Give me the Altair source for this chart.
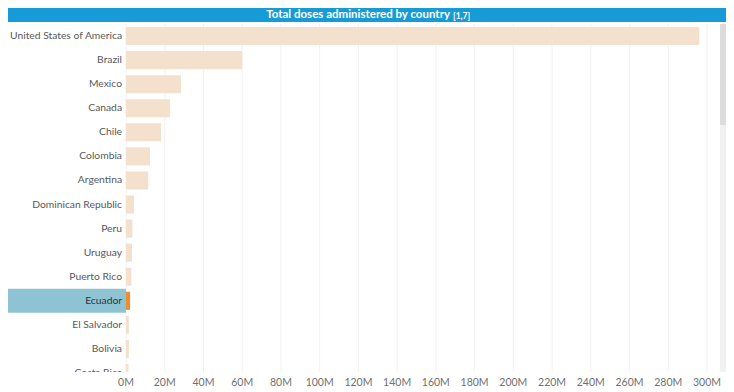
import altair as alt
import pandas as pd

# ---- data ----
countries = [
    "United States of America", "Brazil", "Mexico", "Canada", "Chile",
    "Colombia", "Argentina", "Dominican Republic", "Peru", "Uruguay",
    "Puerto Rico", "Ecuador", "El Salvador", "Bolivia", "Costa Rica",
]
doses_millions = [296, 60, 28.4, 22.7, 18.1, 12.4, 11.5, 4.1, 3.3, 3.1,
                  2.8, 2.1, 1.5, 1.5, 1.3]
highlight_country = "Ecuador"
tick_values_millions = [0, 20, 40, 60, 80, 100, 120, 140, 160, 180,
                        200, 220, 240, 260, 280, 300]
tick_labels = ["0M", "20M", "40M", "60M", "80M", "100M", "120M", "140M",
               "160M", "180M", "200M", "220M", "240M", "260M", "280M", "300M"]
title_main = "Total doses administered by country"
title_note = "[1,7]"

# ---- tables ----
df = pd.DataFrame({"country": countries,
                   "doses": [v * 1e6 for v in doses_millions]})
ticks_df = pd.DataFrame({"tick": [t * 1e6 for t in tick_values_millions],
                         "label": tick_labels})
hl_df = df[df["country"] == highlight_country]
one = pd.DataFrame({"k": [0]})

W, H = 718, 380
STEP = 24.07
PLOT_BOTTOM = 364
xs = alt.Scale(domain=[0, 300e6], range=[118, 699], nice=False, zero=False)
ys = alt.Scale(domain=countries, range=[16, 16 + 15 * STEP],
               paddingInner=0.25, paddingOuter=0.125)

X = alt.X("tick:Q", scale=xs, axis=None)
Y = alt.Y("country:N", scale=ys, axis=None, sort=countries)

label_font = "Lato"

grid = alt.Chart(ticks_df).mark_rule(color="#f1f1f1", strokeWidth=1).encode(
    x=X, y=alt.value(16), y2=alt.value(PLOT_BOTTOM))

hl = alt.Chart(hl_df).mark_bar(height=STEP, color="#8ec3d4").encode(
    x=alt.value(0), x2=alt.value(118), y=Y)

bars = alt.Chart(df).mark_bar().encode(
    x=alt.X("doses:Q", scale=xs, axis=None),
    y=Y,
    color=alt.condition(alt.datum.country == highlight_country,
                        alt.value("#ee8b2c"), alt.value("#f3e1cd")),
)

labels = alt.Chart(df).mark_text(align="right", baseline="middle",
                                 font=label_font, fontSize=10.3).encode(
    x=alt.value(114), y=Y, text="country:N",
    color=alt.condition(alt.datum.country == highlight_country,
                        alt.value("#333333"), alt.value("#595959")),
)

cover = alt.Chart(one).mark_rect(color="white").encode(
    x=alt.value(0), x2=alt.value(712), y=alt.value(PLOT_BOTTOM),
    y2=alt.value(H))

xlabels = alt.Chart(ticks_df).mark_text(align="center", baseline="middle",
                                        font=label_font, fontSize=10.5,
                                        color="#707070").encode(
    x=X, y=alt.value(375), text="label:N")

title_bar = alt.Chart(one).mark_rect(color="#179bd6").encode(
    x=alt.value(0), x2=alt.value(W), y=alt.value(0), y2=alt.value(14))

title_text = alt.Chart(one).mark_text(
    align="right", baseline="middle", color="white", fontWeight="bold",
    fontSize=11.5, font="Lato").encode(
    x=alt.value(442), y=alt.value(7), text=alt.value(title_main))

title_note_text = alt.Chart(one).mark_text(
    align="left", baseline="middle", color="white", fontWeight="bold",
    fontSize=8.5, font="Lato").encode(
    x=alt.value(445), y=alt.value(8), text=alt.value(title_note))

thumb = alt.Chart(one).mark_rect(color="#dcdcdc").encode(
    x=alt.value(712), x2=alt.value(718), y=alt.value(16), y2=alt.value(117))
track = alt.Chart(one).mark_rect(color="#f1f1f1").encode(
    x=alt.value(712), x2=alt.value(718), y=alt.value(117),
    y2=alt.value(PLOT_BOTTOM))

chart = alt.layer(
    grid, hl, bars, labels, cover, xlabels, title_bar, title_text,
    title_note_text, track, thumb,
).properties(
    width=W, height=H, padding=0,
    autosize=alt.AutoSizeParams(type="none"),
).configure_view(stroke=None)

chart.save("out.html", embed_options={"renderer": "svg", "actions": False})
